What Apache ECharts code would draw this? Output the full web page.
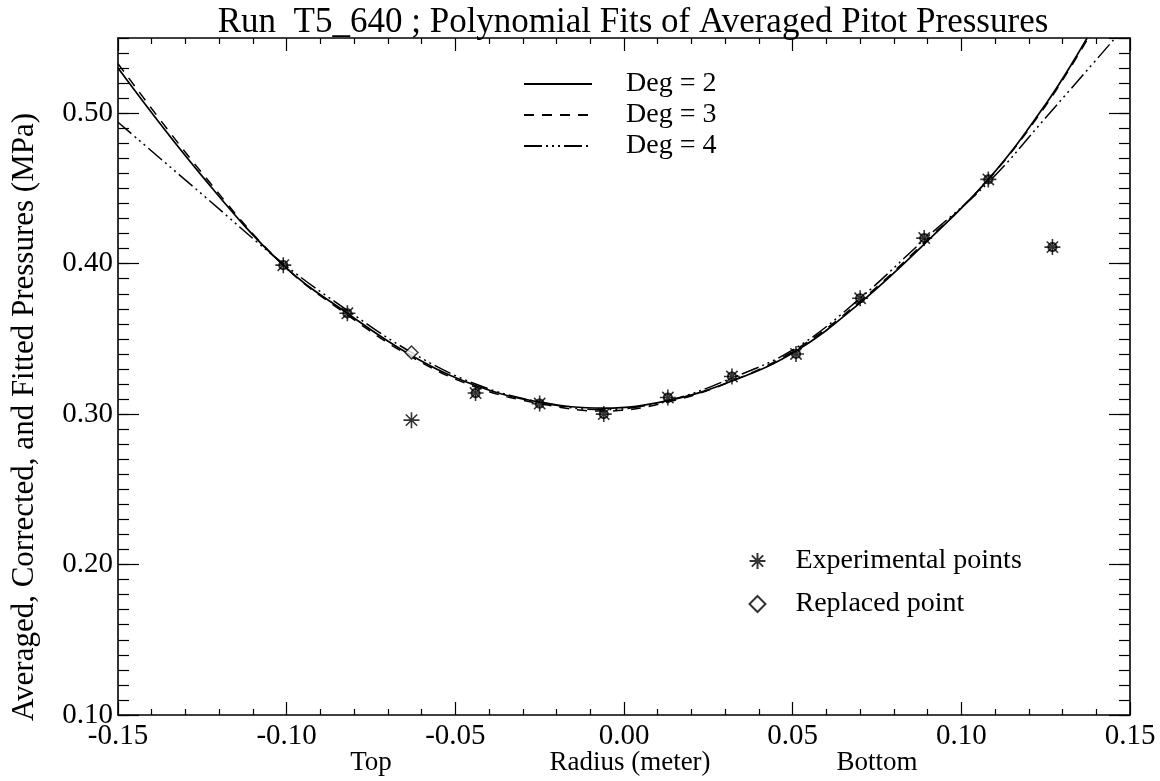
<!DOCTYPE html>
<html>
<head>
<meta charset="utf-8">
<script src="https://cdn.jsdelivr.net/npm/echarts@6/dist/echarts.min.js"></script>
<style>
  html, body { margin: 0; padding: 0; background: #fff; }
  #chart { width: 1160px; height: 781px; }
</style>
</head>
<body>
<div id="chart"></div>
<script>
// Averaged pitot pressures across the nozzle radius (run T5_640)
const radius = [-0.101, -0.082, -0.063, -0.044, -0.025, -0.006, 0.013, 0.032, 0.051, 0.070, 0.089, 0.108, 0.127];
const pressure = [0.399, 0.367, 0.296, 0.314, 0.307, 0.300, 0.311, 0.325, 0.340, 0.377, 0.417, 0.456, 0.411];
const replacedIndex = 2;
const replacedRadius = [-0.063];
const replacedPressure = [0.341];

// Fitted curves, sampled along the radius
const fitRadius2 = [-0.15, -0.125, -0.101, -0.082, -0.063, -0.044, -0.025, -0.006, 0.013, 0.032, 0.051, 0.070, 0.089, 0.108, 0.125, 0.1373];
const fitDeg2 = [0.530, 0.458, 0.399, 0.367, 0.339, 0.319, 0.308, 0.304, 0.309, 0.322, 0.342, 0.374, 0.413, 0.456, 0.506, 0.550];
const fitRadius3 = [-0.15, -0.125, -0.101, -0.082, -0.063, -0.044, -0.025, -0.006, 0.013, 0.032, 0.051, 0.070, 0.089, 0.108, 0.125, 0.1376];
const fitDeg3 = [0.533, 0.460, 0.399, 0.366, 0.338, 0.318, 0.307, 0.302, 0.308, 0.322, 0.343, 0.375, 0.414, 0.456, 0.505, 0.550];
const fitRadius4 = [-0.15, -0.125, -0.101, -0.082, -0.063, -0.044, -0.025, -0.006, 0.013, 0.032, 0.051, 0.070, 0.089, 0.108, 0.125, 0.1456];
const fitDeg4 = [0.494, 0.446, 0.400, 0.369, 0.341, 0.320, 0.308, 0.303, 0.309, 0.324, 0.344, 0.377, 0.416, 0.454, 0.497, 0.550];

const xTicks = { min: -0.15, max: 0.15, step: 0.05 };
const yTicks = { min: 0.10, max: 0.55, step: 0.10 };

const FONT = '"Liberation Serif", "Times New Roman", serif';
const pair = (xs, ys) => xs.map((x, i) => [x, ys[i]]);

const asterisk = 'path://M0,-10L0,10M-10,0L10,0M-7.07,-7.07L7.07,7.07M-7.07,7.07L7.07,-7.07';

const experimental = pair(radius, pressure);
const averaged = experimental.filter((_, i) => i !== replacedIndex);

const chart = echarts.init(document.getElementById('chart'), null, { renderer: 'canvas' });

const axisLineStyle = { color: '#000', width: 1.6 };
const tickStyle = { color: '#000', width: 1.2 };

function xAxisDef(position, labels) {
  return {
    type: 'value', position: position,
    min: xTicks.min, max: xTicks.max, interval: xTicks.step,
    axisLine: { show: true, onZero: false, lineStyle: axisLineStyle },
    axisTick: { show: true, inside: true, length: 13, lineStyle: tickStyle },
    minorTick: { show: true, splitNumber: 5, length: 6, lineStyle: tickStyle },
    splitLine: { show: false },
    axisLabel: {
      show: labels, color: '#000', fontFamily: FONT, fontSize: 29, margin: 7,
      formatter: v => v.toFixed(2)
    }
  };
}

function yAxisDef(position, step, tickLen, labels, lineShow) {
  return {
    type: 'value', position: position,
    min: yTicks.min, max: yTicks.max, interval: step,
    axisLine: { show: lineShow, onZero: false, lineStyle: axisLineStyle },
    axisTick: { show: true, inside: true, length: tickLen, lineStyle: tickStyle },
    splitLine: { show: false },
    axisLabel: {
      show: labels, showMaxLabel: false, color: '#000', fontFamily: FONT, fontSize: 29, margin: 5,
      formatter: v => v.toFixed(2)
    }
  };
}

const option = {
  backgroundColor: '#fff',
  animation: false,
  title: {
    text: 'Run  T5_640 ; Polynomial Fits of Averaged Pitot Pressures',
    left: 628, top: 0, textAlign: 'center',
    textStyle: { color: '#000', fontFamily: FONT, fontSize: 35, fontWeight: 'normal' }
  },
  grid: { left: 118, right: 30, top: 38, bottom: 66, containLabel: false },
  legend: [
    {
      data: ['Deg = 2', 'Deg = 3', 'Deg = 4'],
      orient: 'vertical', left: 518, top: 65,
      itemWidth: 68, itemHeight: 14, itemGap: 3,
      itemStyle: { opacity: 0 },
      textStyle: { color: '#000', fontFamily: FONT, fontSize: 28, lineHeight: 28, padding: [0, 0, 0, 29] },
      selectedMode: false
    },
    {
      data: ['Experimental points', 'Replaced point'],
      orient: 'vertical', left: 742, top: 542,
      itemWidth: 16, itemHeight: 16, itemGap: 15,
      textStyle: { color: '#000', fontFamily: FONT, fontSize: 28, lineHeight: 28, padding: [0, 0, 0, 25] },
      selectedMode: false
    }
  ],
  xAxis: [xAxisDef('bottom', true), xAxisDef('top', false)],
  yAxis: [
    yAxisDef('left', yTicks.step, 21, true, true),
    yAxisDef('left', 0.01, 11, false, false),
    yAxisDef('right', yTicks.step, 21, false, true),
    yAxisDef('right', 0.01, 11, false, false)
  ],
  graphic: [
    {
      type: 'text', x: 25, y: 417, rotation: Math.PI / 2,
      style: { text: 'Averaged, Corrected, and Fitted Pressures (MPa)', font: '31px ' + FONT, fill: '#000', textAlign: 'center', textVerticalAlign: 'middle' }
    },
    { type: 'text', x: 371, y: 763, style: { text: 'Top', font: '27px ' + FONT, fill: '#000', textAlign: 'center', textVerticalAlign: 'middle' } },
    { type: 'text', x: 630, y: 763, style: { text: 'Radius (meter)', font: '27px ' + FONT, fill: '#000', textAlign: 'center', textVerticalAlign: 'middle' } },
    { type: 'text', x: 877, y: 763, style: { text: 'Bottom', font: '27px ' + FONT, fill: '#000', textAlign: 'center', textVerticalAlign: 'middle' } }
  ],
  series: [
    {
      name: 'Deg = 2', type: 'line', data: pair(fitRadius2, fitDeg2), smooth: 0.4,
      symbol: 'none', clip: true,
      lineStyle: { color: '#000', width: 1.7, type: 'solid' }, itemStyle: { color: '#000' }
    },
    {
      name: 'Deg = 3', type: 'line', data: pair(fitRadius3, fitDeg3), smooth: 0.4,
      symbol: 'none', clip: true,
      lineStyle: { color: '#000', width: 1.5, type: [10, 8] }, itemStyle: { color: '#000' }
    },
    {
      name: 'Deg = 4', type: 'line', data: pair(fitRadius4, fitDeg4), smooth: 0.4,
      symbol: 'none', clip: true,
      lineStyle: { color: '#000', width: 1.5, type: [18, 4, 2, 4, 2, 4, 2, 4] }, itemStyle: { color: '#000' }
    },
    {
      name: 'Experimental points', type: 'scatter', data: experimental,
      symbol: asterisk, symbolSize: 16, z: 5,
      itemStyle: { color: 'none', borderColor: '#000', borderWidth: 1.6 }
    },
    {
      name: 'Averaged', type: 'scatter', data: averaged,
      symbol: 'circle', symbolSize: 8, z: 6, silent: true,
      itemStyle: { color: 'none', borderColor: '#000', borderWidth: 2.2 }
    },
    {
      name: 'Replaced point', type: 'scatter', data: pair(replacedRadius, replacedPressure),
      symbol: 'diamond', symbolSize: [13, 13], z: 5,
      itemStyle: { color: '#fff', borderColor: '#000', borderWidth: 1.4 }
    }
  ]
};

chart.setOption(option);
</script>
</body>
</html>
